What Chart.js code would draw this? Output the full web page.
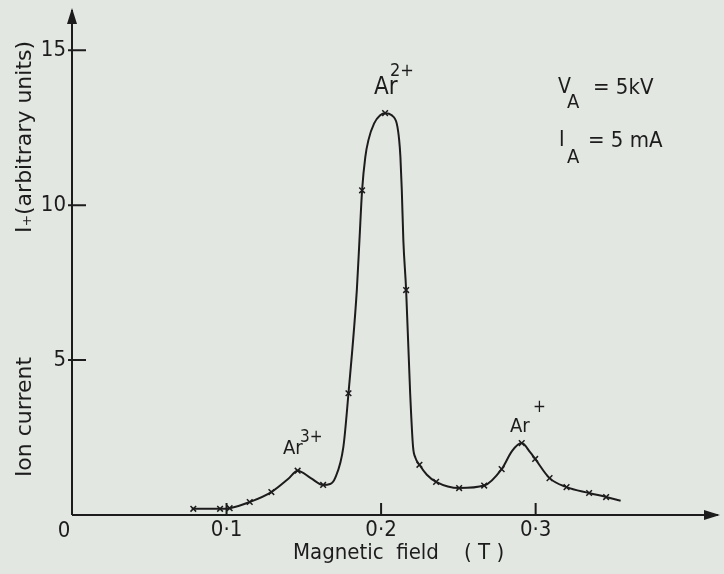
<!DOCTYPE html>
<html>
<head>
<meta charset="utf-8">
<script src="https://cdn.jsdelivr.net/npm/chart.js@4"></script>
<style>
  html, body { margin: 0; padding: 0; background: #e3e7e2; }
  canvas { display: block; }
</style>
</head>
<body>
<canvas id="myChart" width="724" height="574"></canvas>
<script>
// traced curve, magnetic field (T) vs ion current (arb. units)
const curveField = [0.0775, 0.0958, 0.102, 0.115, 0.129, 0.140, 0.146, 0.1545, 0.1625, 0.167, 0.1703, 0.1756, 0.1789, 0.1843, 0.1860, 0.1877, 0.1898, 0.1918, 0.1955, 0.1994, 0.2026, 0.2069, 0.2101, 0.2117, 0.2125, 0.2134, 0.2144, 0.2162, 0.2188, 0.2207, 0.2222, 0.2248, 0.2296, 0.2356, 0.2505, 0.2667, 0.278, 0.2848, 0.291, 0.2964, 0.2997, 0.309, 0.320, 0.3346, 0.3456, 0.355];
const curveCurrent = [0.20, 0.20, 0.22, 0.42, 0.74, 1.17, 1.43, 1.19, 0.97, 1.00, 1.20, 2.20, 3.93, 7.26, 8.87, 10.48, 11.56, 12.10, 12.64, 12.90, 12.97, 12.90, 12.64, 12.10, 11.56, 10.48, 8.87, 7.26, 3.94, 2.19, 1.85, 1.62, 1.30, 1.07, 0.87, 0.95, 1.48, 2.07, 2.32, 2.03, 1.81, 1.19, 0.90, 0.71, 0.58, 0.46];

// measured points (crosses)
const markField = [0.0785, 0.0958, 0.102, 0.115, 0.129, 0.146, 0.1625, 0.1789, 0.1877, 0.2026, 0.2162, 0.2248, 0.2356, 0.2505, 0.2667, 0.278, 0.291, 0.2997, 0.309, 0.320, 0.3346, 0.3456];
const markCurrent = [0.20, 0.20, 0.22, 0.42, 0.74, 1.43, 0.97, 3.93, 10.48, 12.97, 7.26, 1.62, 1.07, 0.87, 0.95, 1.48, 2.32, 1.81, 1.19, 0.90, 0.71, 0.58];

const xTicks = [0.1, 0.2, 0.3];
const xTickLabels = ['0·1', '0·2', '0·3'];
const yTicks = [5, 10, 15];
const yTickLabels = ['5', '10', '15'];

const ink = '#1c1c1c';
const fontFam = "'DejaVu Sans Condensed', 'Liberation Sans Narrow', 'DejaVu Sans', sans-serif";
const wideFam = "'DejaVu Sans', sans-serif";

function txt(ctx, s, x, y, size, align, fam) {
  ctx.font = size + 'px ' + (fam || fontFam);
  ctx.textAlign = align || 'left';
  ctx.textBaseline = 'middle';
  ctx.fillText(s, x, y);
}

const paperPlugin = {
  id: 'paper',
  beforeDraw(chart) {
    const ctx = chart.ctx;
    ctx.save();
    ctx.fillStyle = '#e3e7e2';
    ctx.fillRect(0, 0, chart.width, chart.height);
    ctx.restore();
  },
  afterDraw(chart) {
    const ctx = chart.ctx;
    const xs = chart.scales.x, ys = chart.scales.y;
    const x0 = xs.left, y0 = ys.bottom;
    ctx.save();
    ctx.strokeStyle = ink;
    ctx.fillStyle = ink;
    ctx.lineWidth = 2;

    // axis lines + arrows
    ctx.beginPath();
    ctx.moveTo(x0, y0); ctx.lineTo(xs.right, y0);
    ctx.moveTo(x0, y0); ctx.lineTo(x0, ys.top);
    ctx.stroke();
    ctx.beginPath();
    ctx.moveTo(x0, ys.top - 2); ctx.lineTo(x0 - 5, ys.top + 14); ctx.lineTo(x0 + 5, ys.top + 14);
    ctx.closePath(); ctx.fill();
    ctx.beginPath();
    ctx.moveTo(xs.right + 2, y0); ctx.lineTo(xs.right - 14, y0 - 5); ctx.lineTo(xs.right - 14, y0 + 5);
    ctx.closePath(); ctx.fill();

    // ticks (drawn inward like the original sketch)
    ctx.beginPath();
    xTicks.forEach(v => {
      const px = xs.getPixelForValue(v);
      ctx.moveTo(px, y0); ctx.lineTo(px, y0 - 12);
    });
    yTicks.forEach(v => {
      const py = ys.getPixelForValue(v);
      ctx.moveTo(x0 - 4, py); ctx.lineTo(x0 + 14, py);
    });
    ctx.stroke();

    xTicks.forEach((v, i) => txt(ctx, xTickLabels[i], xs.getPixelForValue(v), y0 + 15, 22, 'center'));
    yTicks.forEach((v, i) => txt(ctx, yTickLabels[i], x0 - 6, ys.getPixelForValue(v), 22, 'right'));
    txt(ctx, '0', x0 - 8, y0 + 16, 22, 'center');

    // axis titles
    txt(ctx, 'Magnetic  field    ( T )', 293, 553, 22, 'left');
    ctx.save();
    ctx.translate(25, 0);
    ctx.rotate(-Math.PI / 2);
    txt(ctx, 'Ion current', -417, 0, 22, 'center', wideFam);
    txt(ctx, 'I₊(arbitrary units)', -137, 0, 22, 'center', wideFam);
    ctx.restore();

    // peak labels
    txt(ctx, 'Ar', 374, 88, 24);
    txt(ctx, '2+', 390, 71, 18);
    txt(ctx, 'Ar', 283, 449, 20);
    txt(ctx, '3+', 300, 438, 17);
    txt(ctx, 'Ar', 510, 427, 20);
    txt(ctx, '+', 533, 408, 17);

    // operating conditions
    txt(ctx, 'V', 558, 88, 21);
    txt(ctx, 'A', 567, 103, 20);
    txt(ctx, '= 5kV', 593, 88, 22);
    txt(ctx, 'I', 559, 141, 21);
    txt(ctx, 'A', 567, 158, 20);
    txt(ctx, '= 5 mA', 588, 141, 22);
    ctx.restore();
  }
};

new Chart(document.getElementById('myChart'), {
  type: 'scatter',
  data: {
    datasets: [{
      label: 'curve',
      data: curveField.map((x, i) => ({ x: x, y: curveCurrent[i] })),
      showLine: true,
      borderColor: ink,
      borderWidth: 2,
      pointRadius: 0,
      cubicInterpolationMode: 'monotone',
      fill: false
    }, {
      label: 'measured',
      data: markField.map((x, i) => ({ x: x, y: markCurrent[i] })),
      showLine: false,
      pointStyle: 'crossRot',
      pointRadius: 4,
      borderColor: ink,
      borderWidth: 1.5
    }]
  },
  options: {
    responsive: false,
    animation: false,
    events: [],
    layout: { padding: { left: 72, right: 6, top: 10, bottom: 59 } },
    plugins: { legend: { display: false }, tooltip: { enabled: false } },
    scales: {
      x: {
        type: 'linear', min: 0, max: 0.418,
        grid: { display: false, drawTicks: false },
        border: { display: false },
        ticks: { display: false }
      },
      y: {
        type: 'linear', min: 0, max: 16.3,
        grid: { display: false, drawTicks: false },
        border: { display: false },
        ticks: { display: false }
      }
    }
  },
  plugins: [paperPlugin]
});
</script>
</body>
</html>
